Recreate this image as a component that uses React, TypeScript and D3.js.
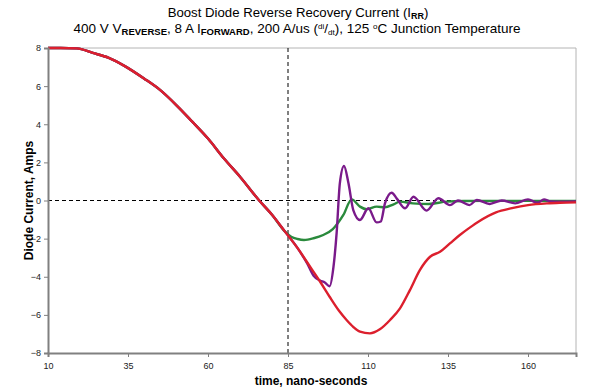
import React, { useEffect, useRef } from 'react';
import * as d3 from 'd3';

// shared falling edge (all three traces overlap here)
const fallTime = [10, 14, 19, 24, 29, 34, 40, 45, 50, 55, 60, 65, 70, 76, 80, 84];
const fallAmps = [8, 8, 7.98, 7.74, 7.48, 7.05, 6.4, 5.8, 5.02, 4.15, 3.25, 2.2, 1.25, 0, -0.75, -1.62];

// red trace, large recovery
const redTime = [88, 92, 95, 98, 101, 103.3, 105.5, 107.5, 110.6, 113.7, 116.9, 120, 123.1, 126.2, 129.4, 132.5, 135.6, 138.7, 141.9, 144.5, 150, 155, 160, 166, 170, 175];
const redAmps = [-2.5, -3.5, -4.25, -5.05, -5.8, -6.27, -6.65, -6.88, -6.97, -6.76, -6.27, -5.66, -4.7, -3.65, -2.95, -2.69, -2.25, -1.81, -1.41, -1.11, -0.62, -0.4, -0.24, -0.15, -0.12, -0.1];

// purple trace, snappy with ringing
const purpleTime = [88, 91, 93, 95, 96.5, 98, 99.2, 100.2, 101.2, 102.5, 103.9, 105.4, 107.5, 110.1, 112.7, 114, 115.3, 117.4, 119, 121.6, 124.2, 128.3, 132, 135.6, 138.1, 141.7, 144, 148, 151.8, 156, 160, 163, 165, 167, 170, 175];
const purpleAmps = [-2.5, -3.3, -3.95, -4.2, -4.3, -4.5, -3.5, -1.7, 0.9, 1.81, 0.9, -0.5, -1.02, -0.41, -1.15, -1.1, -0.15, 0.41, 0.1, -0.41, 0.2, -0.53, 0.12, -0.24, 0, -0.24, 0.03, -0.18, 0, -0.15, 0.06, -0.12, 0.06, -0.05, -0.06, -0.05];

// green trace, soft recovery
const greenTime = [86, 88, 90, 93, 96, 99, 102.3, 104.9, 107.5, 109.6, 112.7, 115.3, 118, 120, 124, 129, 134.6, 140, 150, 160, 175];
const greenAmps = [-1.9, -2.02, -2.07, -1.98, -1.81, -1.5, -0.76, 0.06, -0.32, -0.46, -0.32, -0.36, -0.2, -0.06, -0.15, -0.18, -0.06, -0.03, -0.02, -0.02, -0.03];

const xTicks = [10, 35, 60, 85, 110, 135, 160];
const yTicks = [-8, -6, -4, -2, 0, 2, 4, 6, 8];

type Pt = [number, number];

function App() {
  const svgRef = useRef<SVGSVGElement>(null);

  useEffect(() => {
    const svg = d3.select(svgRef.current);
    svg.selectAll('*').remove();

    const left = 48, right = 576, top = 48, bottom = 353;
    const x = d3.scaleLinear().domain([10, 175]).range([left, right]);
    const y = d3.scaleLinear().domain([-8, 8]).range([bottom, top]);

    const font = 'Arial, "Liberation Sans", Helvetica, sans-serif';

    // title
    svg.append('text')
      .attr('x', 298).attr('y', 17)
      .attr('text-anchor', 'middle')
      .attr('font-family', font).attr('font-size', 13.2)
      .call(t => {
        t.append('tspan').text('Boost Diode Reverse Recovery Current (I');
        t.append('tspan').attr('font-size', 9).attr('font-weight', 'bold').attr('dy', 2).text('RR');
        t.append('tspan').attr('dy', -2).text(')');
      });

    const sub = svg.append('text')
      .attr('x', 297).attr('y', 33)
      .attr('text-anchor', 'middle')
      .attr('font-family', font).attr('font-size', 13.5);
    sub.append('tspan').text('400 V V');
    sub.append('tspan').attr('font-size', 9.5).attr('font-weight', 'bold').attr('dy', 2).text('REVERSE');
    sub.append('tspan').attr('dy', -2).text(', 8 A I');
    sub.append('tspan').attr('font-size', 9.5).attr('font-weight', 'bold').attr('dy', 2).text('FORWARD');
    sub.append('tspan').attr('dy', -2).text(', 200 A/us (');
    sub.append('tspan').attr('font-size', 8).attr('dy', -4).text('di');
    sub.append('tspan').attr('dy', 4).text('/');
    sub.append('tspan').attr('font-size', 8).attr('dy', 2).text('dt');
    sub.append('tspan').attr('dy', -2).text('), 125 ');
    sub.append('tspan').attr('font-size', 8).attr('dy', -4).text('o');
    sub.append('tspan').attr('dy', 4).text('C Junction Temperature');

    // frame top/right
    svg.append('path')
      .attr('d', `M${left},${top}H${right}V${bottom}`)
      .attr('fill', 'none').attr('stroke', '#b4b4b4').attr('stroke-width', 1);

    // dashed reference lines
    svg.append('line')
      .attr('x1', left).attr('x2', right).attr('y1', y(0)).attr('y2', y(0))
      .attr('stroke', '#000').attr('stroke-width', 1).attr('stroke-dasharray', '4,3');
    svg.append('line')
      .attr('x1', x(85)).attr('x2', x(85)).attr('y1', top).attr('y2', bottom)
      .attr('stroke', '#000').attr('stroke-width', 1).attr('stroke-dasharray', '4,3');

    // traces
    const line = d3.line<Pt>()
      .x(d => x(d[0]))
      .y(d => y(d[1]))
      .curve(d3.curveMonotoneX);

    const build = (ts: number[], vs: number[]): Pt[] =>
      fallTime.map((t, i) => [t, fallAmps[i]] as Pt).concat(ts.map((t, i) => [t, vs[i]] as Pt));

    const series = [
      { pts: build(greenTime, greenAmps), color: '#2a8a3c' },
      { pts: build(purpleTime, purpleAmps), color: '#7a1a8a' },
      { pts: build(redTime, redAmps), color: '#dc1f2d' },
    ];

    series.forEach(s => {
      svg.append('path')
        .datum(s.pts)
        .attr('d', line)
        .attr('fill', 'none')
        .attr('stroke', s.color)
        .attr('stroke-width', 2.4)
        .attr('stroke-linejoin', 'round');
    });

    // axes
    const xAxis = svg.append('g')
      .attr('transform', `translate(0,${bottom})`)
      .call(d3.axisBottom(x).tickValues(xTicks).tickSize(4).tickPadding(6));
    const yAxis = svg.append('g')
      .attr('transform', `translate(${left},0)`)
      .call(d3.axisLeft(y).tickValues(yTicks).tickSize(4).tickPadding(3));

    [xAxis, yAxis].forEach(g => {
      g.select('.domain').attr('stroke', '#808080').attr('stroke-width', 2);
      g.selectAll('.tick line').attr('stroke', '#808080');
      g.selectAll('.tick text')
        .attr('font-family', font).attr('font-size', 9).attr('fill', '#222');
    });

    svg.append('text')
      .attr('x', 311).attr('y', 385)
      .attr('text-anchor', 'middle')
      .attr('font-family', font).attr('font-size', 12).attr('font-weight', 'bold')
      .text('time, nano-seconds');

    svg.append('text')
      .attr('transform', `translate(33,${(top + bottom) / 2}) rotate(-90)`)
      .attr('text-anchor', 'middle')
      .attr('font-family', font).attr('font-size', 12).attr('font-weight', 'bold')
      .text('Diode Current, Amps');
  }, []);

  return (
    <svg ref={svgRef} width={605} height={389}
      style={{ position: 'absolute', left: 0, top: 0, background: '#fff' }} />
  );
}

export default App;
